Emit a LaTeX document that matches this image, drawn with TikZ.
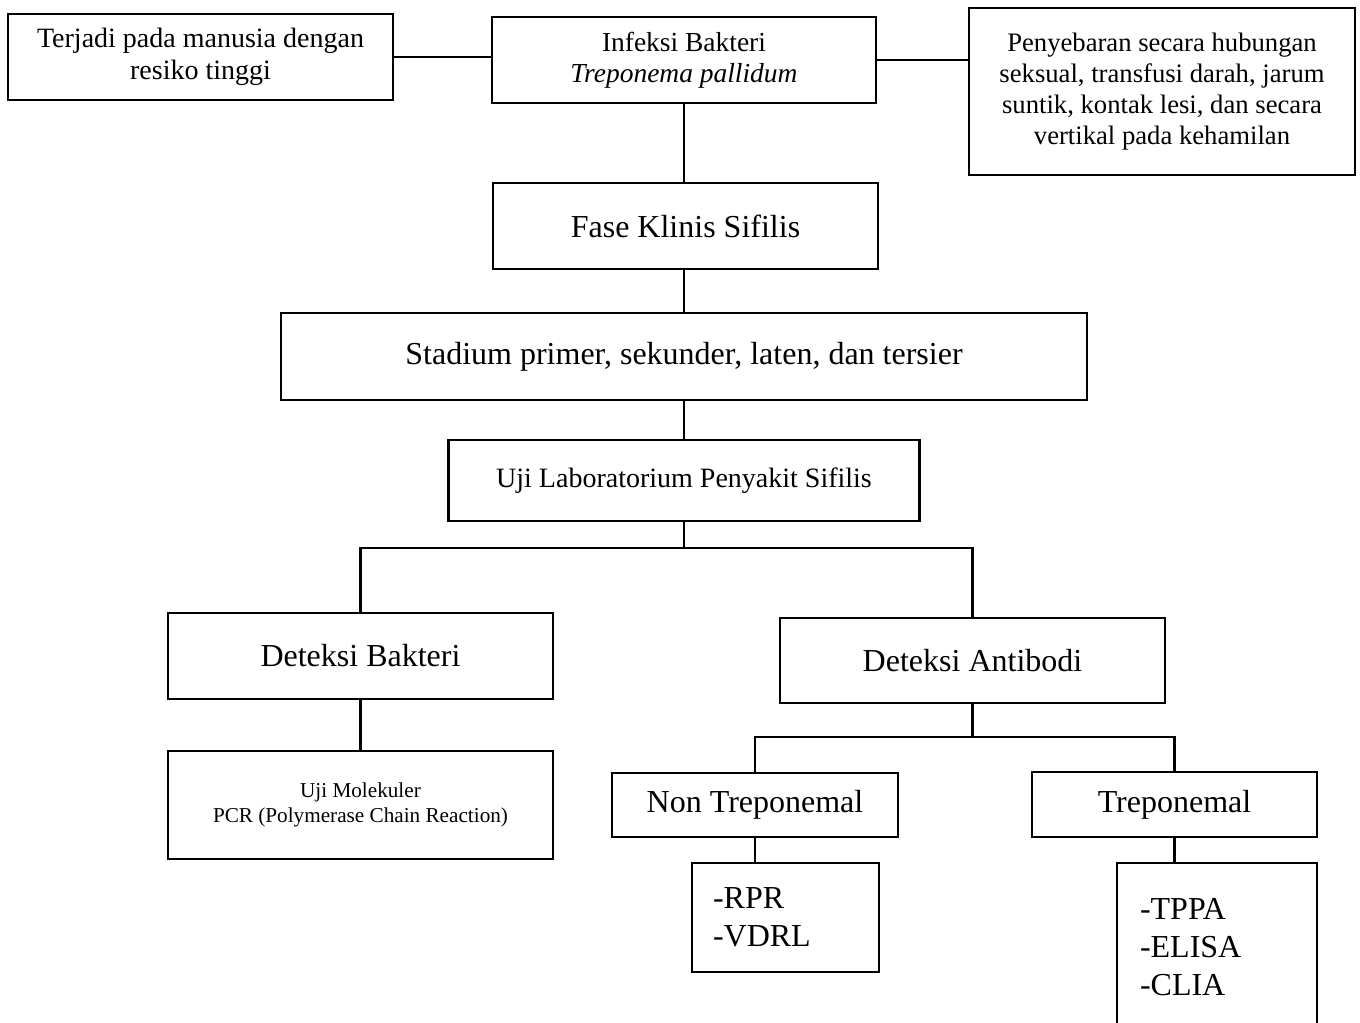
\documentclass[tikz,border=0pt]{standalone}
\usepackage{fontspec}
\setmainfont{Liberation Serif}
\usetikzlibrary{positioning}

\newcommand{\px}{0.75pt}
\tikzset{
    box/.style={draw, line width=1.8pt, inner sep=0pt, align=center},
    link/.style={line width=1.8pt},
    bigtext/.style={font=\fontsize{24}{28.5}\selectfont},
    midtext/.style={font=\fontsize{21}{24}\selectfont}
}

\begin{document}
\begin{tikzpicture}[x=0.75pt, y=-0.75pt]
                        \useasboundingbox (0,0) rectangle (1360,1022);
                        \clip (0,0) rectangle (1360,1022);
                        % top row
                        \node[box, midtext, minimum width=385*\px, minimum height=86*\px] (terjadi) at (200.5,57)
                            {Terjadi pada manusia dengan\\resiko tinggi};
                        \node[box, font=\fontsize{20.6}{23.25}\selectfont, minimum width=384*\px, minimum height=86*\px] (infeksi) at (684,60)
                            {Infeksi Bakteri\\\textit{Treponema pallidum}};
                        \node[box, font=\fontsize{20}{23.1}\selectfont, minimum width=386*\px, minimum height=167*\px] (sebar) at (1162,91.5)
                            {Penyebaran secara hubungan\\seksual, transfusi darah, jarum\\suntik, kontak lesi, dan secara\\vertikal pada kehamilan};
                        % middle column
                        \node[box, bigtext, minimum width=385*\px, minimum height=86*\px] (fase) at (685.5,226)
                            {Fase Klinis Sifilis};
                        \node[box, bigtext, minimum width=806*\px, minimum height=87*\px] (stadium) at (684,356.5)
                            {Stadium primer, sekunder, laten, dan tersier};
                        \node[box, midtext, minimum width=471*\px, minimum height=81*\px] (ujilab) at (684,480.5)
                            {Uji Laboratorium Penyakit Sifilis};
                        % two branches
                        \node[box, bigtext, minimum width=385*\px, minimum height=86*\px] (bakteri) at (360.5,656)
                            {Deteksi Bakteri};
                        \node[box, bigtext, minimum width=385*\px, minimum height=85*\px] (antibodi) at (972.5,660.5)
                            {Deteksi Antibodi};
                        \node[box, font=\fontsize{15.9}{18.75}\selectfont, minimum width=385*\px, minimum height=108*\px] (molekuler) at (360.5,805)
                            {Uji Molekuler\\PCR (Polymerase Chain Reaction)};
                        \node[box, bigtext, minimum width=286*\px, minimum height=64*\px] (nontrep) at (755,805)
                            {Non Treponemal};
                        \node[box, bigtext, minimum width=285*\px, minimum height=65*\px] (trep) at (1174.5,804.5)
                            {Treponemal};
                        \node[box, bigtext, align=left, text width=145*\px, inner xsep=21*\px, minimum height=109*\px] (rpr) at (785.5,917.5)
                            {-RPR\\-VDRL};
                        \node[box, bigtext, align=left, text width=154*\px, inner xsep=23*\px, minimum height=168*\px] (tppa) at (1217,947)
                            {-TPPA\\-ELISA\\-CLIA};
                        % connectors
                        \coordinate (split1) at (684,548);
                        \coordinate (split2) at (972.5,737);
                        \draw[link] (terjadi.east) -- (terjadi.east -| infeksi.west);
                        \draw[link] (infeksi.east) -- (infeksi.east -| sebar.west);
                        \draw[link] (infeksi.south) -- (infeksi.south |- fase.north);
                        \draw[link] (stadium.north |- fase.south) -- (stadium.north);
                        \draw[link] (stadium.south) -- (stadium.south |- ujilab.north);
                        \draw[link] (ujilab.south) -- (split1);
                        \draw[link] (bakteri.north) |- (split1) -| (antibodi.north);
                        \draw[link] (bakteri.south) -- (molekuler.north);
                        \draw[link] (antibodi.south) -- (split2);
                        \draw[link] (nontrep.north) |- (split2) -| (trep.north);
                        \draw[link] (nontrep.south) -- (nontrep.south |- rpr.north);
                        \draw[link] (trep.south) -- (trep.south |- tppa.north);
                    \end{tikzpicture}
\end{document}
